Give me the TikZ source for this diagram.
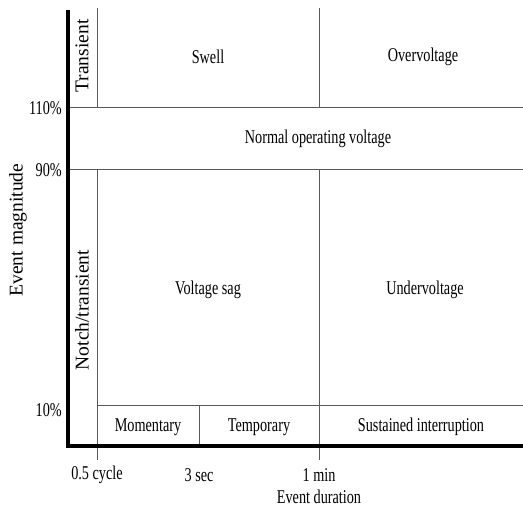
\documentclass[tikz,border=0pt]{standalone}
\usepackage{fontspec}
\setmainfont{Liberation Serif}
\newcommand{\narrowlbl}[1]{\scalebox{0.73}[1]{#1}}
\begin{document}
\begin{tikzpicture}[x=1pt,y=-1pt,
  thin line/.style={draw=black!65, line width=1pt},
  axis line/.style={draw=black, line width=3.4pt},
  lbl/.style={font=\fontsize{19.5}{22}\selectfont, inner sep=0pt},
  vlbl/.style={lbl, rotate=90}]
\useasboundingbox (0,0) rectangle (523,510);
% axes
\coordinate (ytop) at (68,10);
\coordinate (orig) at (68,446);
\coordinate (xend) at (523,446);
% grid lines
\draw[thin line] (68,108) -- (523,108);
\draw[thin line] (68,170) -- (523,170);
\draw[thin line] (97,406) -- (523,406);
\draw[thin line] (97,8) -- (97,108);
\draw[thin line] (97,170) -- (97,460);
\draw[thin line] (199,406) -- (199,446);
\draw[thin line] (319,8) -- (319,108);
\draw[thin line] (319,170) -- (319,460);
\draw[axis line] (ytop) -- (orig) -- (xend);
% magnitude labels
\node[lbl, anchor=east] (p110) at (62,108) {\narrowlbl{110\%}};
\node[lbl, anchor=east] (p90) at (62,170) {\narrowlbl{90\%}};
\node[lbl, anchor=east] (p10) at (62,410) {\narrowlbl{10\%}};
\node[vlbl] (ttr) at (82,56) {Transient};
\node[vlbl] (ntr) at (82,310) {Notch/transient};
\node[vlbl] (emag) at (18,230) {Event magnitude};
% regions
\node[lbl] (swell) at (208,57) {\narrowlbl{Swell}};
\node[lbl] (over) at (423,57) {\narrowlbl{Overvoltage}};
\node[lbl] (normal) at (318,139) {\narrowlbl{Normal operating voltage}};
\node[lbl] (sag) at (208,290) {\narrowlbl{Voltage sag}};
\node[lbl] (under) at (425,290) {\narrowlbl{Undervoltage}};
\node[lbl] (mom) at (148,427) {\narrowlbl{Momentary}};
\node[lbl] (temp) at (259,427) {\narrowlbl{Temporary}};
\node[lbl] (sust) at (421,427) {\narrowlbl{Sustained interruption}};
% duration labels
\node[lbl] (c05) at (97,475) {\narrowlbl{0.5 cycle}};
\node[lbl] (s3) at (199,475) {\narrowlbl{3 sec}};
\node[lbl] (m1) at (319,475) {\narrowlbl{1 min}};
\node[lbl] (edur) at (319,497) {\narrowlbl{Event duration}};
\end{tikzpicture}
\end{document}
